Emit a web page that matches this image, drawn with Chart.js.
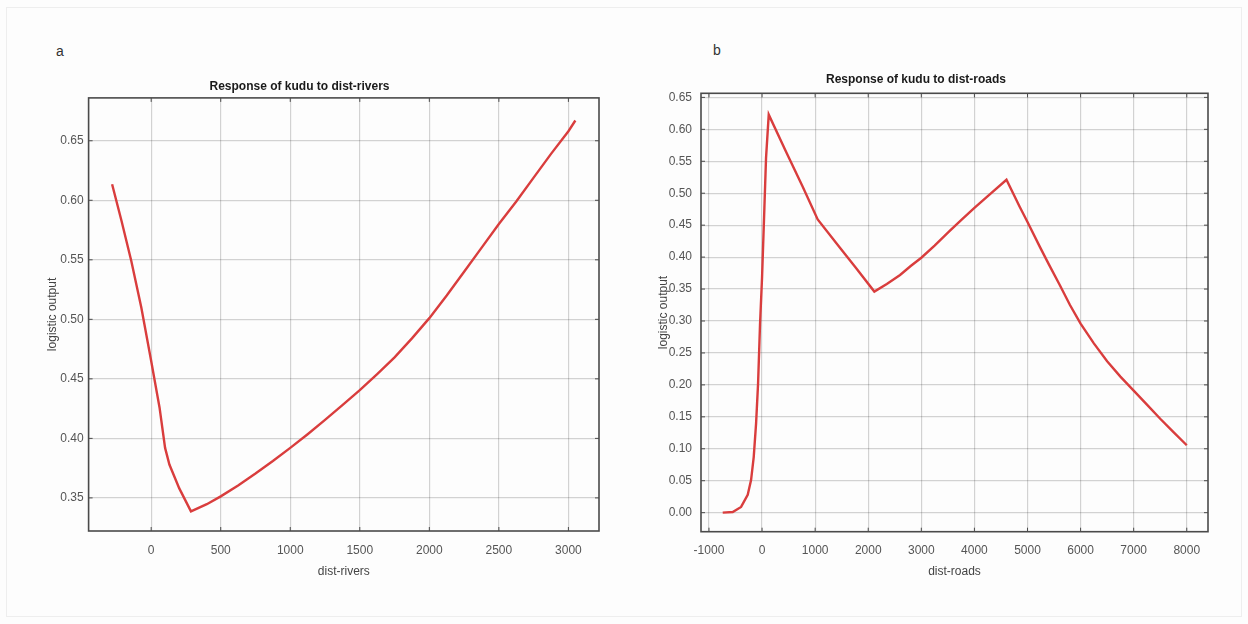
<!DOCTYPE html>
<html>
<head>
  <meta charset="utf-8">
  <script src="https://cdn.jsdelivr.net/npm/chart.js@4.4.0/dist/chart.umd.min.js"></script>
  <style>
    body { margin: 0; background: #fdfdfd; font-family: 'Liberation Sans', Arial, sans-serif; }
    #page { position: relative; width: 1248px; height: 624px; overflow: hidden; }
    #frame { position: absolute; left: 6px; top: 7px; width: 1234px; height: 608px; border: 1px solid #eeeeee; }
    canvas { position: absolute; top: 0; }
    #c1 { left: 0; }
    #c2 { left: 624px; }
    .panel { position: absolute; color: #333; font-size: 14px; line-height: 14px; }
  </style>
</head>
<body>
<div id="page">
  <div id="frame"></div>
  <div class="panel" style="left:56px; top:44px;">a</div>
  <div class="panel" style="left:713px; top:43px;">b</div>
  <canvas id="c1" width="624" height="624"></canvas>
  <canvas id="c2" width="624" height="624"></canvas>
</div>
<script>
  // panel a: response to distance from rivers
  const riversX = [-281, -214, -143, -71, 0, 60, 100, 131, 202, 286, 400, 500, 625, 750, 875, 1000, 1125, 1250, 1375, 1500, 1625, 1750, 1875, 2000, 2125, 2250, 2375, 2500, 2625, 2750, 2875, 3000, 3050];
  const riversY = [0.6135, 0.583, 0.549, 0.510, 0.465, 0.426, 0.392, 0.378, 0.358, 0.3387, 0.3447, 0.3513, 0.3605, 0.3705, 0.381, 0.392, 0.4035, 0.4155, 0.428, 0.4405, 0.454, 0.468, 0.484, 0.501, 0.520, 0.540, 0.560, 0.580, 0.599, 0.619, 0.639, 0.658, 0.667];
  const riversXTicks = [0, 500, 1000, 1500, 2000, 2500, 3000];
  const riversYTicks = [0.35, 0.40, 0.45, 0.50, 0.55, 0.60, 0.65];

  // panel b: response to distance from roads
  const roadsX = [-741, -552, -395, -270, -207, -157, -113, -75, -38, 0, 44, 75, 126, 452, 766, 1048, 1456, 1770, 2115, 2350, 2600, 2800, 3000, 3250, 3535, 3750, 4000, 4300, 4604, 4855, 5000, 5233, 5400, 5610, 5800, 6000, 6250, 6500, 6750, 7000, 7250, 7500, 7750, 8000];
  const roadsY = [0.000, 0.001, 0.009, 0.028, 0.051, 0.087, 0.139, 0.202, 0.295, 0.368, 0.477, 0.555, 0.623, 0.565, 0.510, 0.459, 0.416, 0.383, 0.346, 0.358, 0.372, 0.386, 0.399, 0.418, 0.441, 0.458, 0.477, 0.499, 0.521, 0.4785, 0.455, 0.416, 0.389, 0.356, 0.325, 0.296, 0.265, 0.237, 0.213, 0.191, 0.169, 0.147, 0.126, 0.1055];
  const roadsXTicks = [-1000, 0, 1000, 2000, 3000, 4000, 5000, 6000, 7000, 8000];
  const roadsYTicks = [0, 0.05, 0.10, 0.15, 0.20, 0.25, 0.30, 0.35, 0.40, 0.45, 0.50, 0.55, 0.60, 0.65];

  Chart.defaults.font.family = "'Liberation Sans', Arial, sans-serif";

  // box around the plot area with small inward ticks, matlab style
  const boxPlugin = {
    id: 'box',
    afterDraw(chart) {
      const {ctx, chartArea: a, scales} = chart;
      ctx.save();
      ctx.strokeStyle = '#4a4a4a';
      ctx.lineWidth = 1;
      scales.x.ticks.forEach(t => {
        const px = scales.x.getPixelForValue(t.value);
        ctx.beginPath();
        ctx.moveTo(px, a.bottom); ctx.lineTo(px, a.bottom - 4);
        ctx.moveTo(px, a.top); ctx.lineTo(px, a.top + 4);
        ctx.stroke();
      });
      scales.y.ticks.forEach(t => {
        const py = scales.y.getPixelForValue(t.value);
        ctx.beginPath();
        ctx.moveTo(a.left, py); ctx.lineTo(a.left + 4, py);
        ctx.moveTo(a.right, py); ctx.lineTo(a.right - 4, py);
        ctx.stroke();
      });
      ctx.lineWidth = 1.6;
      ctx.strokeRect(a.left, a.top, a.right - a.left, a.bottom - a.top);
      ctx.restore();
    }
  };

  function makeChart(id, cfg) {
    const points = cfg.xs.map((x, i) => ({x: x, y: cfg.ys[i]}));
    const tickFont = {size: 12};
    return new Chart(document.getElementById(id), {
      type: 'line',
      data: {
        datasets: [{
          data: points,
          borderColor: '#d93d3d',
          borderWidth: 2.4,
          pointRadius: 0,
          tension: 0
        }]
      },
      options: {
        responsive: false,
        animation: false,
        devicePixelRatio: 1,
        layout: {padding: {left: 0, right: cfg.padRight, top: 0, bottom: 0}},
        plugins: {
          legend: {display: false},
          tooltip: {enabled: false},
          title: {
            display: true,
            text: cfg.title,
            color: '#1a1a1a',
            font: {size: 12, weight: 'bold', lineHeight: 1.2},
            padding: {top: cfg.titleTop, bottom: cfg.titleBottom}
          }
        },
        scales: {
          x: {
            type: 'linear',
            min: cfg.xMin,
            max: cfg.xMax,
            afterBuildTicks: s => { s.ticks = cfg.xTicks.map(v => ({value: v})); },
            afterFit: s => { s.height = cfg.xAxisHeight; },
            grid: {color: 'rgba(0,0,0,0.17)', lineWidth: 1.2, drawTicks: false},
            border: {display: false},
            ticks: {
              color: '#555',
              font: tickFont,
              padding: cfg.xTickPad,
              maxRotation: 0,
              autoSkip: false,
              callback: v => String(v)
            },
            title: {
              display: true,
              text: cfg.xLabel,
              color: '#444',
              font: {size: 12, lineHeight: 1.2},
              padding: {top: 0, bottom: cfg.xTitlePad}
            }
          },
          y: {
            type: 'linear',
            min: cfg.yMin,
            max: cfg.yMax,
            afterBuildTicks: s => { s.ticks = cfg.yTicks.map(v => ({value: v})); },
            afterFit: s => { s.width = cfg.yAxisWidth; },
            grid: {color: 'rgba(0,0,0,0.17)', lineWidth: 1.2, drawTicks: false},
            border: {display: false},
            ticks: {
              color: '#555',
              font: tickFont,
              padding: cfg.yTickPad,
              autoSkip: false,
              callback: v => Number(v).toFixed(2)
            },
            title: {
              display: true,
              text: 'logistic output',
              color: '#444',
              font: {size: 12, lineHeight: 1.2},
              padding: {top: cfg.yTitlePad, bottom: 0}
            }
          }
        }
      },
      plugins: [boxPlugin]
    });
  }

  makeChart('c1', {
    title: 'Response of kudu to dist-rivers',
    xLabel: 'dist-rivers',
    xs: riversX, ys: riversY,
    xTicks: riversXTicks, yTicks: riversYTicks,
    xMin: -450, xMax: 3220, yMin: 0.3222, yMax: 0.686,
    padRight: 25, titleTop: 79.5, titleBottom: 4,
    yAxisWidth: 88.6, xAxisHeight: 93,
    xTickPad: 12.8, xTitlePad: 44.8, yTickPad: 5, yTitlePad: 45
  });

  makeChart('c2', {
    title: 'Response of kudu to dist-roads',
    xLabel: 'dist-roads',
    xs: roadsX, ys: roadsY,
    xTicks: roadsXTicks, yTicks: roadsYTicks,
    xMin: -1150, xMax: 8400, yMin: -0.0298, yMax: 0.6564,
    padRight: 40, titleTop: 72.8, titleBottom: 6.1,
    yAxisWidth: 77, xAxisHeight: 92.3,
    xTickPad: 12.1, xTitlePad: 44.8, yTickPad: 9, yTitlePad: 32.8
  });
</script>
</body>
</html>
